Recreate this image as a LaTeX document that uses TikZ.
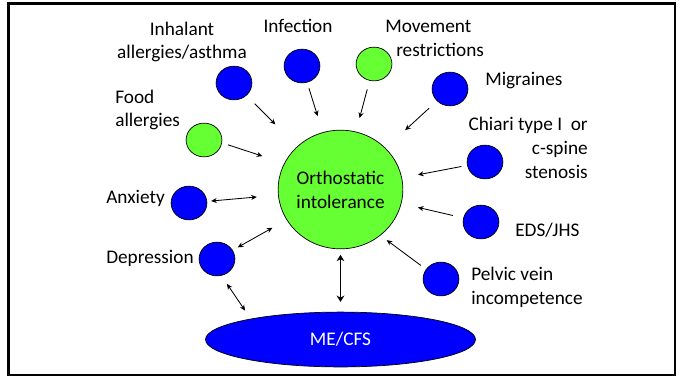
\documentclass[tikz,border=0pt]{standalone}
\usepackage{fontspec}
\setmainfont{Carlito}
\usetikzlibrary{arrows.meta,shapes.geometric}
\definecolor{lightgreen}{RGB}{102,255,51}

\begin{document}
\begin{tikzpicture}[
    x=0.025cm, y=-0.025cm,
    factor/.style={
        ellipse,
        draw=black,
        fill=blue,
        minimum width=25.5pt,
        minimum height=24pt,
        inner sep=0pt,
        line width=0.5pt
    },
    greenfactor/.style={factor, fill=lightgreen},
    lbl/.style={inner sep=0pt, font=\fontsize{13.7}{17}\selectfont},
    link/.style={->, line width=0.6pt},
    >={Stealth[length=4pt,width=3.6pt]}
]

\useasboundingbox (0,0) rectangle (682,378);
\draw[line width=2.1pt] (8.5,3.5) rectangle (675,375);

% Centre and ME/CFS
\node[ellipse, draw, line width=0.5pt, fill=lightgreen, minimum width=81.5pt,
      minimum height=84.4pt, lbl, align=center] (oi) at (340.5,189.5) {Orthostatic\\intolerance};
\node[ellipse, draw, line width=0.5pt, fill=blue, minimum width=192pt,
      minimum height=39pt, lbl, text=white] (me) at (340.5,339.5) {ME/CFS};

% Factors
\node[factor] (inh) at (234,83) {};
\node[factor] (inf) at (302,66) {};
\node[greenfactor] (mov) at (374,64) {};
\node[factor] (mig) at (450,89) {};
\node[factor] (chi) at (485,162) {};
\node[factor] (eds) at (481,222) {};
\node[factor] (pel) at (441,279) {};
\node[greenfactor] (food) at (204,140) {};
\node[factor] (anx) at (189,203) {};
\node[factor] (dep) at (217,259) {};

% Labels
\node[lbl, align=center] (inh-l) at (182,42) {Inhalant\\allergies/asthma};
\node[lbl] (inf-l) at (298,26) {Infection};
\node[lbl, anchor=west, align=left] (mov-l) at (385,38) {Movement\\\hspace*{7.8pt}restrictions};
\node[lbl, anchor=west] (mig-l) at (485,81) {Migraines};
\node[lbl, anchor=east, align=right] (chi-l) at (588,148) {Chiari type I\ \ or\\c-spine\\stenosis};
\node[lbl, anchor=west] (eds-l) at (515,230) {EDS/JHS};
\node[lbl, anchor=west, align=left] (pel-l) at (471,287) {Pelvic vein\\incompetence};
\node[lbl, anchor=west, align=left] (food-l) at (115,110) {Food\\allergies};
\node[lbl, anchor=west] (anx-l) at (106,198) {Anxiety};
\node[lbl, anchor=west] (dep-l) at (106,258) {Depression};

% Arrows
\draw[link, shorten <=8.2pt, shorten >=22pt] (inh) -- (oi);
\draw[link, shorten <=4.3pt, shorten >=12pt] (inf) -- (oi);
\draw[link, shorten <=6.4pt, shorten >=10pt] (mov) -- (oi);
\draw[link, shorten <=7.6pt, shorten >=18.8pt] (mig) -- (oi);
\draw[link, shorten <=4.1pt, shorten >=11.6pt] (chi) -- (oi);
\draw[link, shorten <=7.6pt, shorten >=12pt] (eds) -- (oi);
\draw[link, shorten <=4.5pt, shorten >=5.5pt] (pel.147) -- (oi.-49);
\draw[link, shorten <=4.5pt, shorten >=16.3pt] (food.-9) -- (oi.155);
\draw[link, <->, shorten <=2.8pt, shorten >=15.2pt] (anx) -- (oi);
\draw[link, <->, shorten <=4.1pt, shorten >=11.5pt] (dep) -- (oi);
\draw[link, <->, shorten <=7pt, shorten >=7pt] (dep.285) -- (me.167);
\draw[{Stealth[length=4.5pt,width=5.5pt]}-{Stealth[length=4.5pt,width=5.5pt]},
      line width=1.2pt, shorten <=4pt, shorten >=7pt] (oi) -- (me);

\end{tikzpicture}
\end{document}
